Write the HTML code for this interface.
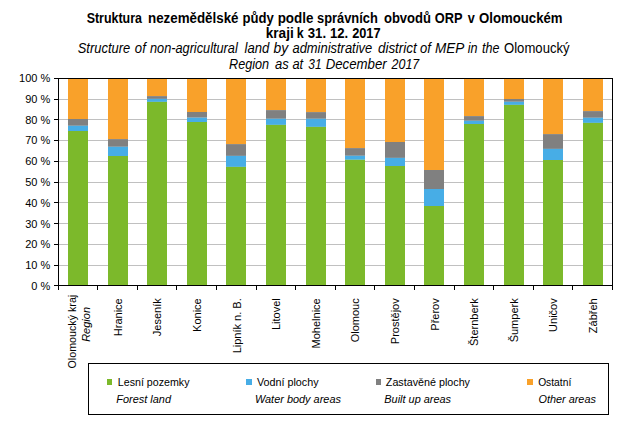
<!DOCTYPE html>
<html><head><meta charset="utf-8"><style>
html,body{margin:0;padding:0;background:#fff;overflow:hidden;}
svg{display:block;}
text{font-family:"Liberation Sans",sans-serif;fill:#000;}
</style></head><body>
<svg width="643" height="426" viewBox="0 0 643 426">
<rect x="0" y="0" width="643" height="426" fill="#fff"/>
<text x="117.85" y="386" font-size="11" font-weight="normal" font-style="normal" textLength="71.65" lengthAdjust="spacingAndGlyphs" xml:space="preserve">Lesní pozemky</text>
<text x="116.33" y="403" font-size="11" font-weight="normal" font-style="italic" textLength="54.66" lengthAdjust="spacingAndGlyphs" xml:space="preserve">Forest land</text>
<text x="256.88" y="386" font-size="11" font-weight="normal" font-style="normal" textLength="61.64" lengthAdjust="spacingAndGlyphs" xml:space="preserve">Vodní plochy</text>
<text x="254.91" y="403" font-size="11" font-weight="normal" font-style="italic" textLength="86.04" lengthAdjust="spacingAndGlyphs" xml:space="preserve">Water body areas</text>
<text x="385.83" y="386" font-size="11" font-weight="normal" font-style="normal" textLength="84.16" lengthAdjust="spacingAndGlyphs" xml:space="preserve">Zastavěné plochy</text>
<text x="384.33" y="403" font-size="11" font-weight="normal" font-style="italic" textLength="66.74" lengthAdjust="spacingAndGlyphs" xml:space="preserve">Built up areas</text>
<text x="538.13" y="386" font-size="11" font-weight="normal" font-style="normal" textLength="33.16" lengthAdjust="spacingAndGlyphs" xml:space="preserve">Ostatní</text>
<text x="538.48" y="403" font-size="11" font-weight="normal" font-style="italic" textLength="57.43" lengthAdjust="spacingAndGlyphs" xml:space="preserve">Other areas</text>
<text x="86.67" y="23" font-size="14" font-weight="bold" font-style="normal" textLength="55.32" lengthAdjust="spacingAndGlyphs" xml:space="preserve">Struktura</text>
<text x="147.97" y="23" font-size="14" font-weight="bold" font-style="normal" textLength="90.57" lengthAdjust="spacingAndGlyphs" xml:space="preserve">nezemědělské</text>
<text x="242.48" y="23" font-size="14" font-weight="bold" font-style="normal" textLength="31.29" lengthAdjust="spacingAndGlyphs" xml:space="preserve">půdy</text>
<text x="277.66" y="23" font-size="14" font-weight="bold" font-style="normal" textLength="35.79" lengthAdjust="spacingAndGlyphs" xml:space="preserve">podle</text>
<text x="317.04" y="23" font-size="14" font-weight="bold" font-style="normal" textLength="60.78" lengthAdjust="spacingAndGlyphs" xml:space="preserve">správních</text>
<text x="383.93" y="23" font-size="14" font-weight="bold" font-style="normal" textLength="47.02" lengthAdjust="spacingAndGlyphs" xml:space="preserve">obvodů</text>
<text x="434.73" y="23" font-size="14" font-weight="bold" font-style="normal" textLength="27.70" lengthAdjust="spacingAndGlyphs" xml:space="preserve">ORP</text>
<text x="467.79" y="23" font-size="14" font-weight="bold" font-style="normal" textLength="7.06" lengthAdjust="spacingAndGlyphs" xml:space="preserve">v</text>
<text x="479.01" y="23" font-size="14" font-weight="bold" font-style="normal" textLength="83.57" lengthAdjust="spacingAndGlyphs" xml:space="preserve">Olomouckém</text>
<text x="265.73" y="38" font-size="14" font-weight="bold" font-style="normal" textLength="28.00" lengthAdjust="spacingAndGlyphs" xml:space="preserve">kraji</text>
<text x="296.71" y="38" font-size="14" font-weight="bold" font-style="normal" textLength="6.93" lengthAdjust="spacingAndGlyphs" xml:space="preserve">k</text>
<text x="307.75" y="38" font-size="14" font-weight="bold" font-style="normal" textLength="18.37" lengthAdjust="spacingAndGlyphs" xml:space="preserve">31.</text>
<text x="329.98" y="38" font-size="14" font-weight="bold" font-style="normal" textLength="18.23" lengthAdjust="spacingAndGlyphs" xml:space="preserve">12.</text>
<text x="352.14" y="38" font-size="14" font-weight="bold" font-style="normal" textLength="28.46" lengthAdjust="spacingAndGlyphs" xml:space="preserve">2017</text>
<text x="77.75" y="53" font-size="14" font-weight="normal" font-style="italic" textLength="52.47" lengthAdjust="spacingAndGlyphs" xml:space="preserve">Structure</text>
<text x="134.83" y="53" font-size="14" font-weight="normal" font-style="italic" textLength="10.96" lengthAdjust="spacingAndGlyphs" xml:space="preserve">of</text>
<text x="149.97" y="53" font-size="14" font-weight="normal" font-style="italic" textLength="87.80" lengthAdjust="spacingAndGlyphs" xml:space="preserve">non-agricultural</text>
<text x="244.47" y="53" font-size="14" font-weight="normal" font-style="italic" textLength="24.75" lengthAdjust="spacingAndGlyphs" xml:space="preserve">land</text>
<text x="273.45" y="53" font-size="14" font-weight="normal" font-style="italic" textLength="14.67" lengthAdjust="spacingAndGlyphs" xml:space="preserve">by</text>
<text x="292.45" y="53" font-size="14" font-weight="normal" font-style="italic" textLength="79.81" lengthAdjust="spacingAndGlyphs" xml:space="preserve">administrative</text>
<text x="377.92" y="53" font-size="14" font-weight="normal" font-style="italic" textLength="38.88" lengthAdjust="spacingAndGlyphs" xml:space="preserve">district</text>
<text x="420.04" y="53" font-size="14" font-weight="normal" font-style="italic" textLength="10.86" lengthAdjust="spacingAndGlyphs" xml:space="preserve">of</text>
<text x="434.92" y="53" font-size="14" font-weight="normal" font-style="italic" textLength="29.37" lengthAdjust="spacingAndGlyphs" xml:space="preserve">MEP</text>
<text x="467.67" y="53" font-size="14" font-weight="normal" font-style="italic" textLength="9.82" lengthAdjust="spacingAndGlyphs" xml:space="preserve">in</text>
<text x="481.94" y="53" font-size="14" font-weight="normal" font-style="italic" textLength="17.48" lengthAdjust="spacingAndGlyphs" xml:space="preserve">the</text>
<text x="504.01" y="53" font-size="14" font-weight="normal" font-style="normal" textLength="65.61" lengthAdjust="spacingAndGlyphs" xml:space="preserve">Olomoucký</text>
<text x="229.05" y="69" font-size="14" font-weight="normal" font-style="italic" textLength="40.12" lengthAdjust="spacingAndGlyphs" xml:space="preserve">Region</text>
<text x="274.95" y="69" font-size="14" font-weight="normal" font-style="italic" textLength="13.72" lengthAdjust="spacingAndGlyphs" xml:space="preserve">as</text>
<text x="292.46" y="69" font-size="14" font-weight="normal" font-style="italic" textLength="10.74" lengthAdjust="spacingAndGlyphs" xml:space="preserve">at</text>
<text x="308.28" y="69" font-size="14" font-weight="normal" font-style="italic" textLength="13.24" lengthAdjust="spacingAndGlyphs" xml:space="preserve">31</text>
<text x="325.63" y="69" font-size="14" font-weight="normal" font-style="italic" textLength="61.09" lengthAdjust="spacingAndGlyphs" xml:space="preserve">December</text>
<text x="391.61" y="69" font-size="14" font-weight="normal" font-style="italic" textLength="27.68" lengthAdjust="spacingAndGlyphs" xml:space="preserve">2017</text>
<line x1="58" x2="612" y1="265.5" y2="265.5" stroke="#c0c0c0" stroke-width="1"/>
<line x1="58" x2="612" y1="244.5" y2="244.5" stroke="#c0c0c0" stroke-width="1"/>
<line x1="58" x2="612" y1="223.5" y2="223.5" stroke="#c0c0c0" stroke-width="1"/>
<line x1="58" x2="612" y1="202.5" y2="202.5" stroke="#c0c0c0" stroke-width="1"/>
<line x1="58" x2="612" y1="182.5" y2="182.5" stroke="#c0c0c0" stroke-width="1"/>
<line x1="58" x2="612" y1="161.5" y2="161.5" stroke="#c0c0c0" stroke-width="1"/>
<line x1="58" x2="612" y1="140.5" y2="140.5" stroke="#c0c0c0" stroke-width="1"/>
<line x1="58" x2="612" y1="119.5" y2="119.5" stroke="#c0c0c0" stroke-width="1"/>
<line x1="58" x2="612" y1="99.5" y2="99.5" stroke="#c0c0c0" stroke-width="1"/>
<rect x="68" y="78" width="20" height="41.0" fill="#f9a12a"/>
<rect x="68" y="119.0" width="20" height="6.8" fill="#808080"/>
<rect x="68" y="125.8" width="20" height="5.2" fill="#47ade6"/>
<rect x="68" y="131.0" width="20" height="154.0" fill="#7cb92b"/>
<rect x="108" y="78" width="20" height="61.1" fill="#f9a12a"/>
<rect x="108" y="139.1" width="20" height="7.7" fill="#808080"/>
<rect x="108" y="146.8" width="20" height="9.2" fill="#47ade6"/>
<rect x="108" y="156.0" width="20" height="129.0" fill="#7cb92b"/>
<rect x="147" y="78" width="20" height="18.1" fill="#f9a12a"/>
<rect x="147" y="96.1" width="20" height="2.8" fill="#808080"/>
<rect x="147" y="98.9" width="20" height="3.0" fill="#47ade6"/>
<rect x="147" y="101.9" width="20" height="183.1" fill="#7cb92b"/>
<rect x="187" y="78" width="20" height="34.0" fill="#f9a12a"/>
<rect x="187" y="112.0" width="20" height="5.7" fill="#808080"/>
<rect x="187" y="117.7" width="20" height="4.3" fill="#47ade6"/>
<rect x="187" y="122.0" width="20" height="163.0" fill="#7cb92b"/>
<rect x="226" y="78" width="20" height="66.1" fill="#f9a12a"/>
<rect x="226" y="144.1" width="20" height="11.8" fill="#808080"/>
<rect x="226" y="155.9" width="20" height="11.0" fill="#47ade6"/>
<rect x="226" y="166.9" width="20" height="118.1" fill="#7cb92b"/>
<rect x="266" y="78" width="20" height="32.1" fill="#f9a12a"/>
<rect x="266" y="110.1" width="20" height="8.7" fill="#808080"/>
<rect x="266" y="118.8" width="20" height="6.1" fill="#47ade6"/>
<rect x="266" y="124.9" width="20" height="160.1" fill="#7cb92b"/>
<rect x="306" y="78" width="20" height="34.1" fill="#f9a12a"/>
<rect x="306" y="112.1" width="20" height="6.7" fill="#808080"/>
<rect x="306" y="118.8" width="20" height="8.1" fill="#47ade6"/>
<rect x="306" y="126.9" width="20" height="158.1" fill="#7cb92b"/>
<rect x="345" y="78" width="20" height="70.1" fill="#f9a12a"/>
<rect x="345" y="148.1" width="20" height="7.7" fill="#808080"/>
<rect x="345" y="155.8" width="20" height="4.0" fill="#47ade6"/>
<rect x="345" y="159.8" width="20" height="125.2" fill="#7cb92b"/>
<rect x="385" y="78" width="20" height="64.0" fill="#f9a12a"/>
<rect x="385" y="142.0" width="20" height="15.9" fill="#808080"/>
<rect x="385" y="157.9" width="20" height="8.1" fill="#47ade6"/>
<rect x="385" y="166.0" width="20" height="119.0" fill="#7cb92b"/>
<rect x="424" y="78" width="20" height="92.0" fill="#f9a12a"/>
<rect x="424" y="170.0" width="20" height="19.0" fill="#808080"/>
<rect x="424" y="189.0" width="20" height="17.0" fill="#47ade6"/>
<rect x="424" y="206.0" width="20" height="79.0" fill="#7cb92b"/>
<rect x="464" y="78" width="20" height="38.1" fill="#f9a12a"/>
<rect x="464" y="116.1" width="20" height="4.7" fill="#808080"/>
<rect x="464" y="120.8" width="20" height="3.2" fill="#47ade6"/>
<rect x="464" y="124.0" width="20" height="161.0" fill="#7cb92b"/>
<rect x="504" y="78" width="20" height="21.0" fill="#f9a12a"/>
<rect x="504" y="99.0" width="20" height="2.8" fill="#808080"/>
<rect x="504" y="101.8" width="20" height="3.1" fill="#47ade6"/>
<rect x="504" y="104.9" width="20" height="180.1" fill="#7cb92b"/>
<rect x="543" y="78" width="20" height="56.1" fill="#f9a12a"/>
<rect x="543" y="134.1" width="20" height="14.8" fill="#808080"/>
<rect x="543" y="148.9" width="20" height="11.1" fill="#47ade6"/>
<rect x="543" y="160.0" width="20" height="125.0" fill="#7cb92b"/>
<rect x="583" y="78" width="20" height="33.1" fill="#f9a12a"/>
<rect x="583" y="111.1" width="20" height="6.7" fill="#808080"/>
<rect x="583" y="117.8" width="20" height="5.1" fill="#47ade6"/>
<rect x="583" y="122.9" width="20" height="162.1" fill="#7cb92b"/>
<rect x="58.5" y="78.5" width="554" height="207" fill="none" stroke="#000" stroke-width="1"/>
<line x1="54" x2="58" y1="285.5" y2="285.5" stroke="#000" stroke-width="1"/>
<text x="50.3" y="290.2" font-size="11" text-anchor="end">0 %</text>
<line x1="54" x2="58" y1="265.5" y2="265.5" stroke="#000" stroke-width="1"/>
<text x="50.3" y="269.2" font-size="11" text-anchor="end">10 %</text>
<line x1="54" x2="58" y1="244.5" y2="244.5" stroke="#000" stroke-width="1"/>
<text x="50.3" y="248.2" font-size="11" text-anchor="end">20 %</text>
<line x1="54" x2="58" y1="223.5" y2="223.5" stroke="#000" stroke-width="1"/>
<text x="50.3" y="228.2" font-size="11" text-anchor="end">30 %</text>
<line x1="54" x2="58" y1="202.5" y2="202.5" stroke="#000" stroke-width="1"/>
<text x="50.3" y="207.2" font-size="11" text-anchor="end">40 %</text>
<line x1="54" x2="58" y1="182.5" y2="182.5" stroke="#000" stroke-width="1"/>
<text x="50.3" y="186.2" font-size="11" text-anchor="end">50 %</text>
<line x1="54" x2="58" y1="161.5" y2="161.5" stroke="#000" stroke-width="1"/>
<text x="50.3" y="165.2" font-size="11" text-anchor="end">60 %</text>
<line x1="54" x2="58" y1="140.5" y2="140.5" stroke="#000" stroke-width="1"/>
<text x="50.3" y="144.2" font-size="11" text-anchor="end">70 %</text>
<line x1="54" x2="58" y1="119.5" y2="119.5" stroke="#000" stroke-width="1"/>
<text x="50.3" y="124.2" font-size="11" text-anchor="end">80 %</text>
<line x1="54" x2="58" y1="99.5" y2="99.5" stroke="#000" stroke-width="1"/>
<text x="50.3" y="103.2" font-size="11" text-anchor="end">90 %</text>
<line x1="54" x2="58" y1="78.5" y2="78.5" stroke="#000" stroke-width="1"/>
<text x="50.3" y="82.2" font-size="11" text-anchor="end">100 %</text>
<line x1="58.5" x2="58.5" y1="285" y2="290" stroke="#000" stroke-width="1"/>
<line x1="97.5" x2="97.5" y1="285" y2="290" stroke="#000" stroke-width="1"/>
<line x1="137.5" x2="137.5" y1="285" y2="290" stroke="#000" stroke-width="1"/>
<line x1="176.5" x2="176.5" y1="285" y2="290" stroke="#000" stroke-width="1"/>
<line x1="216.5" x2="216.5" y1="285" y2="290" stroke="#000" stroke-width="1"/>
<line x1="256.5" x2="256.5" y1="285" y2="290" stroke="#000" stroke-width="1"/>
<line x1="295.5" x2="295.5" y1="285" y2="290" stroke="#000" stroke-width="1"/>
<line x1="335.5" x2="335.5" y1="285" y2="290" stroke="#000" stroke-width="1"/>
<line x1="374.5" x2="374.5" y1="285" y2="290" stroke="#000" stroke-width="1"/>
<line x1="414.5" x2="414.5" y1="285" y2="290" stroke="#000" stroke-width="1"/>
<line x1="454.5" x2="454.5" y1="285" y2="290" stroke="#000" stroke-width="1"/>
<line x1="493.5" x2="493.5" y1="285" y2="290" stroke="#000" stroke-width="1"/>
<line x1="533.5" x2="533.5" y1="285" y2="290" stroke="#000" stroke-width="1"/>
<line x1="572.5" x2="572.5" y1="285" y2="290" stroke="#000" stroke-width="1"/>
<line x1="612.5" x2="612.5" y1="285" y2="290" stroke="#000" stroke-width="1"/>
<text transform="translate(76.4,294.8) rotate(-90)" font-size="11" font-style="normal" text-anchor="end" textLength="73.7" lengthAdjust="spacingAndGlyphs">Olomoucký kraj</text>
<text transform="translate(89.9,307.0) rotate(-90)" font-size="11" font-style="italic" text-anchor="end">Region</text>
<text transform="translate(121.7,298.3) rotate(-90)" font-size="11" font-style="normal" text-anchor="end">Hranice</text>
<text transform="translate(161.3,298.3) rotate(-90)" font-size="11" font-style="normal" text-anchor="end">Jeseník</text>
<text transform="translate(200.9,298.3) rotate(-90)" font-size="11" font-style="normal" text-anchor="end">Konice</text>
<text transform="translate(240.5,298.3) rotate(-90)" font-size="11" font-style="normal" text-anchor="end">Lipník n. B.</text>
<text transform="translate(280.1,298.3) rotate(-90)" font-size="11" font-style="normal" text-anchor="end">Litovel</text>
<text transform="translate(319.7,298.3) rotate(-90)" font-size="11" font-style="normal" text-anchor="end">Mohelnice</text>
<text transform="translate(359.3,298.3) rotate(-90)" font-size="11" font-style="normal" text-anchor="end">Olomouc</text>
<text transform="translate(398.9,298.3) rotate(-90)" font-size="11" font-style="normal" text-anchor="end">Prostějov</text>
<text transform="translate(438.5,298.3) rotate(-90)" font-size="11" font-style="normal" text-anchor="end">Přerov</text>
<text transform="translate(478.1,298.3) rotate(-90)" font-size="11" font-style="normal" text-anchor="end">Šternberk</text>
<text transform="translate(517.7,298.3) rotate(-90)" font-size="11" font-style="normal" text-anchor="end">Šumperk</text>
<text transform="translate(557.3,298.3) rotate(-90)" font-size="11" font-style="normal" text-anchor="end">Uničov</text>
<text transform="translate(596.9,298.3) rotate(-90)" font-size="11" font-style="normal" text-anchor="end">Zábřeh</text>
<rect x="88.5" y="363.5" width="520" height="51" fill="none" stroke="#000" stroke-width="1"/>
<rect x="107" y="379" width="5" height="6" fill="#7cb92b"/>
<rect x="246" y="379" width="6" height="6" fill="#47ade6"/>
<rect x="376" y="379" width="5" height="6" fill="#808080"/>
<rect x="527" y="379" width="6" height="6" fill="#f9a12a"/>
</svg></body></html>
